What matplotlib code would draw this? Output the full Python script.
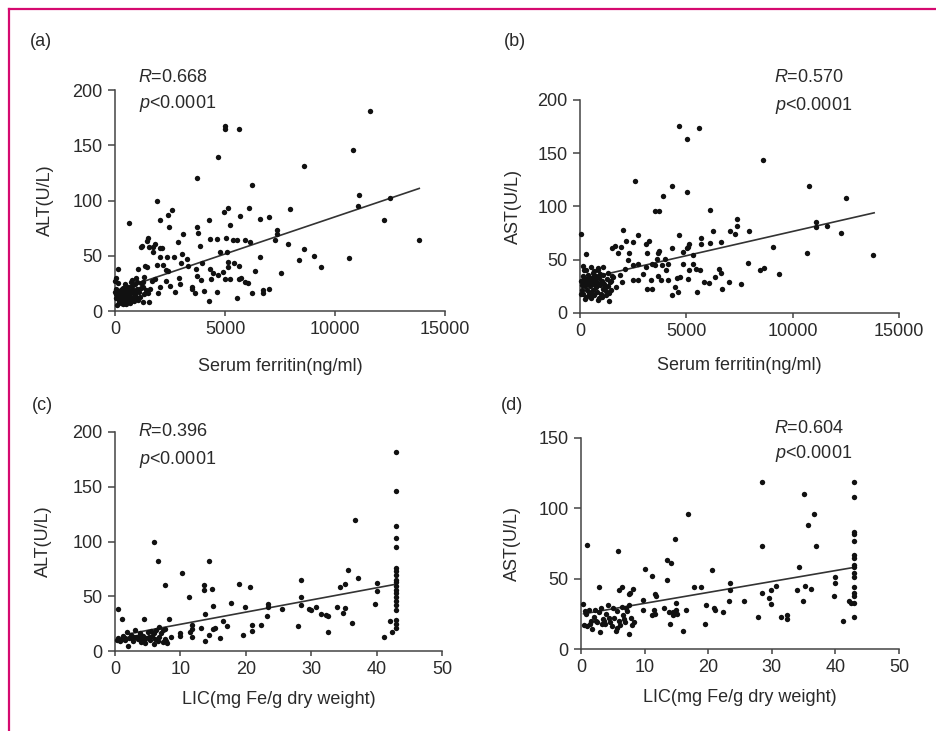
import matplotlib
matplotlib.use("Agg")
import matplotlib.pyplot as plt
from matplotlib.lines import Line2D
import numpy as np

plt.rcParams['font.family'] = ['Liberation Sans', 'DejaVu Sans']
plt.rcParams['mathtext.fontset'] = 'custom'
plt.rcParams['mathtext.it'] = 'Liberation Sans:italic'
plt.rcParams['mathtext.rm'] = 'Liberation Sans'

# ---------------- data ----------------
# Panel (a): serum ferritin vs ALT
a_x = [11590, 5000, 5000, 5650, 4667, 10817, 8590, 3712, 6212, 1924, 636, 2576, 2424, 2045, 2455,
       5151, 4955, 5681, 6106, 4288, 5227, 6591, 6985, 7939, 11106, 11030, 12500, 12242, 13818,
       10652, 8606, 8363, 9045, 9363, 7863, 7348, 7348, 7288, 7545, 6575, 6363, 6742, 6985, 6742,
       6212, 5909, 6060, 5530, 4273, 4652, 4061, 3636, 3485, 3515, 2909, 2742, 3060, 3106, 3742,
       3757, 3879, 4333, 4636, 4773, 5076, 5045, 5378, 5530, 5909, 6136, 2848, 1485, 1439, 1242,
       1545, 1742, 1833, 2060, 2151, 1712, 2045, 2348, 2667, 3000, 3257, 3333, 3682, 3939, 4303,
       4470, 4682, 4894, 5136, 5151, 5424, 5636, 5727, 5651, 4985, 5227, 4349, 3712, 3924, 2166,
       1894, 2318, 2424, 1470, 1364, 1045, 1197, 1833, 1697, 2045, 1591, 1515, 1939, 2318, 2500,
       2955, 1545, 1258, 1288, 1167, 1318, 939, 121, 30, 758,
       100, 150, 200, 250, 300, 350, 400, 450, 500, 550, 600, 650, 700, 750, 800, 850, 900, 950,
       1000, 1050, 1100, 1200, 1300, 50, 120, 180, 230, 280, 330, 380, 420, 470, 520, 580, 620,
       680, 720, 780, 820, 880, 920, 970, 1020, 60, 140, 260, 360, 440, 540, 640, 740, 840, 1150,
       1250, 1400, 30, 20, 10, 90]
a_y = [181, 167, 165, 165, 139, 146, 131, 120, 114, 100, 80, 91, 87, 82, 76,
       93, 90, 86, 93, 82, 78, 83, 85, 92, 105, 95, 102, 82, 64,
       48, 56, 46, 50, 40, 61, 73, 70, 64, 34, 49, 36, 19, 20, 16,
       16, 26, 25, 12, 9, 17, 18, 16, 22, 20, 30, 17, 52, 70, 76,
       71, 59, 65, 65, 53, 53, 66, 64, 64, 64, 62, 62, 66, 63, 59,
       58, 58, 61, 57, 57, 53, 49, 49, 49, 43, 47, 41, 38, 43, 38,
       34, 33, 35, 44, 40, 43, 41, 30, 29, 29, 29, 29, 32, 28, 42,
       42, 37, 36, 40, 41, 38, 58, 29, 27, 22, 20, 16, 16, 27, 23,
       24, 8, 8, 22, 25, 31, 30, 38, 30, 28,
       12, 18, 8, 15, 20, 10, 14, 17, 6, 12, 22, 9, 16, 19, 11, 14, 24, 13,
       20, 10, 17, 21, 15, 20, 25, 10, 13, 7, 17, 21, 9, 12, 16, 19, 14,
       7, 11, 23, 17, 9, 15, 18, 26, 15, 14, 19, 6, 24, 20, 13, 26, 19, 13,
       26, 19, 12, 17, 27, 5]

# Panel (b): serum ferritin vs AST
b_x = [4655, 5611, 5016, 8605, 2586, 4310, 5016, 3918, 10784, 12492, 3511, 3730, 6129, 7398, 7398,
       7053, 7304, 7962, 6238, 6614, 6113, 5690, 5690, 11113, 11082, 11599, 12257, 13793, 10658,
       9060, 9373, 7899, 8448, 8667, 7555, 6990, 6692, 6520, 6630, 6364, 6082, 5847, 5517, 5643,
       5141, 5079, 4702, 4545, 4592, 4451, 4310, 5016, 5094, 5141, 4655, 4326, 4859, 5329, 5298,
       5455, 4827, 3981, 3730, 3668, 3637, 3229, 3088, 3151, 2743, 2476, 2162, 2037, 1912, 2304,
       1771, 1646, 1489, 2257, 2508, 2743, 3104, 3370, 3527, 3840, 4153, 4044, 3668, 3339, 2978,
       2743, 2508, 2116, 1881, 1567, 1975, 1693, 3135, 3386, 3793, 4153, 31, 266, 157, 502, 862,
       1097, 674,
       50, 80, 120, 150, 180, 200, 230, 260, 290, 320, 350, 380, 410, 440, 470, 500, 530, 560,
       590, 620, 650, 680, 710, 740, 770, 800, 830, 860, 900, 940, 980, 1020, 1060, 1100, 1150,
       1200, 1250, 1300, 1350, 1400, 1450, 1500, 100, 300, 500, 700, 900, 1100, 1300, 60, 240,
       440, 640, 840, 1040, 1240, 1440, 160, 360, 560, 760, 960, 1160, 1360]
b_y = [176, 174, 163, 144, 124, 119, 114, 110, 119, 108, 96, 96, 97, 88, 82,
       77, 74, 77, 77, 67, 66, 65, 70, 85, 81, 82, 75, 54, 56,
       62, 37, 47, 40, 42, 27, 29, 23, 41, 38, 34, 28, 29, 20, 40,
       40, 32, 34, 33, 20, 24, 17, 61, 62, 65, 73, 61, 57, 54, 46,
       41, 46, 51, 58, 56, 51, 68, 65, 56, 73, 67, 68, 78, 62, 56,
       56, 63, 61, 50, 45, 46, 43, 46, 45, 45, 46, 40, 35, 31, 37,
       31, 31, 41, 36, 34, 29, 24, 23, 23, 31, 31, 74, 55, 44, 43, 42,
       43, 39,
       30, 22, 35, 18, 27, 40, 25, 32, 15, 28, 22, 36, 19, 30, 25, 33, 14, 27,
       38, 22, 29, 17, 31, 24, 35, 20, 28, 12, 33, 26, 18, 30, 23, 36, 27,
       21, 32, 25, 11, 29, 22, 35, 26, 40, 20, 26, 14, 28, 38, 18, 13,
       17, 35, 40, 15, 17, 30, 31, 29, 32, 29, 37, 24, 19]

# Panel (c): LIC vs ALT
c_x = [42.9] * 20 + [42.1, 42.3, 41.1, 40.0, 40.0, 39.8, 36.7, 35.7, 37.1, 35.1, 34.4, 35.2, 34.9,
       34.0, 36.3, 28.4, 28.4, 28.4, 28.0, 29.7, 30.0, 30.7, 31.5, 32.2, 32.5, 32.5, 25.6, 23.4,
       23.4, 23.2, 22.3, 20.9, 20.9, 20.6, 19.9, 19.6, 19.0, 17.7, 17.1, 16.5, 16.1, 14.3, 13.6,
       13.6, 14.9, 15.0, 13.8, 15.3, 15.0, 14.3, 13.7, 13.1, 10.2, 11.3, 7.7, 5.9, 6.6, 8.2, 7.7,
       8.6, 9.9, 9.9, 11.7, 11.7, 11.5, 11.7, 4.4, 0.4, 1.0,
       0.5, 0.8, 1.2, 1.5, 1.8, 2.0, 2.2, 2.5, 2.8, 3.0, 3.2, 3.5, 3.8, 4.0, 4.3, 4.6, 4.8, 5.0,
       5.3, 5.6, 5.9, 6.1, 6.3, 6.5, 6.8, 7.0, 7.3, 7.6, 7.9, 1.0, 2.6, 3.6, 4.2, 5.5, 6.7, 7.4,
       0.3, 3.9, 5.2, 6.0, 7.8, 2.9, 1.6, 4.5]
c_y = [182, 146, 114, 103, 95, 76, 73, 69, 65, 63, 59, 56, 53, 49, 46, 42, 37, 28, 25, 21,
       27, 17, 13, 62, 55, 43, 120, 74, 67, 61, 58, 39, 35,
       40, 26, 65, 49, 42, 23, 38, 37, 40, 34, 33, 32, 17, 38, 43,
       40, 32, 24, 24, 18, 58, 40, 15, 61, 44, 23, 27, 12, 82, 60,
       56, 57, 41, 34, 21, 20, 15, 9, 21, 71, 49, 60, 100, 82, 29, 20,
       13, 16, 14, 24, 20, 17, 13, 29, 38, 29,
       12, 9, 14, 10, 17, 5, 12, 15, 9, 19, 13, 11, 16, 8, 14, 7, 12, 17,
       10, 14, 6, 11, 19, 9, 13, 16, 8, 11, 7, 11, 12, 14, 10, 18, 22, 19,
       10, 12, 13, 16, 9, 13, 12, 9]

# Panel (d): LIC vs AST
d_x = [42.9] * 16 + [42.1, 42.5, 41.2, 39.9, 39.9, 39.8, 28.4, 28.4, 28.4, 27.9, 35.0, 36.6,
       35.7, 37.0, 34.3, 35.2, 36.2, 34.0, 34.9, 29.9, 30.7, 29.6, 29.9, 31.5, 32.4, 32.4, 16.9,
       14.8, 13.5, 14.2, 13.6, 10.1, 11.2, 11.6, 11.8, 9.8, 9.7, 11.4, 11.7, 11.1, 13.0, 13.8,
       14.4, 14.0, 14.4, 15.0, 15.0, 15.1, 16.1, 16.5, 17.8, 18.9, 20.6, 19.7, 20.9, 21.0, 19.5,
       22.3, 23.5, 23.5, 23.2, 25.6, 0.9, 5.8, 2.9, 6.0, 6.5, 7.6, 8.2, 7.6,
       0.3, 0.5, 0.8, 1.0, 1.2, 1.5, 1.8, 2.0, 2.2, 2.5, 2.8, 3.0, 3.2, 3.5, 3.8, 4.0, 4.2, 4.5,
       4.8, 5.0, 5.2, 5.5, 5.7, 6.0, 6.2, 6.4, 6.6, 6.9, 7.2, 7.5, 7.8, 8.0, 8.3, 2.3, 3.6, 4.4,
       5.6, 6.7, 7.0, 1.4, 0.7, 7.7, 3.3]
d_y = [119, 108, 83, 82, 77, 67, 65, 60, 58, 54, 51, 44, 40, 38, 33, 23,
       34, 33, 20, 51, 47, 38, 119, 73, 40, 23, 110, 96,
       88, 73, 58, 45, 43, 42, 34, 42, 45, 36, 32, 23, 24, 21, 96,
       78, 63, 61, 49, 57, 52, 39, 38, 35, 28, 28, 25, 24, 29, 26,
       26, 18, 24, 33, 28, 25, 13, 28, 44, 44, 56, 31, 29, 28, 18,
       26, 47, 42, 34, 34, 74, 70, 44, 42, 44, 39, 43, 11,
       32, 17, 25, 16, 28, 20, 14, 23, 28, 19, 26, 12, 29, 21, 18, 25, 31, 19,
       16, 29, 22, 13, 27, 20, 17, 30, 24, 19, 27, 31, 22, 17, 19, 20, 20, 22,
       15, 21, 29, 18, 27, 40, 18]

# regression lines: (x_start, x_end, intercept, slope)
a_fit = (0, 13830, 18.0, 0.00672)
b_fit = (0, 13830, 31.0, 0.00456)
c_fit = (2.0, 42.9, 13.3, 1.11)
d_fit = (0.4, 42.9, 24.7, 0.776)

x_labels = ["Serum ferritin(ng/ml)", "Serum ferritin(ng/ml)",
            "LIC(mg Fe/g dry weight)", "LIC(mg Fe/g dry weight)"]
y_labels = ["ALT(U/L)", "AST(U/L)", "ALT(U/L)", "AST(U/L)"]
panel_tags = ["(a)", "(b)", "(c)", "(d)"]
r_values = ["0.668", "0.570", "0.396", "0.604"]
p_text = "<0.0001"

# ---------------- layout ----------------
W, H = 937, 731
fig = plt.figure(figsize=(W / 100, H / 100), dpi=100)
fig.patch.set_facecolor("white")

def fx(px):
    return px / W

def fy(py):
    return 1 - py / H

FS = 13
# axes boxes in pixel: left, right, top, bottom
boxes = [(115, 445, 90, 311), (580, 899, 100, 313), (115, 442, 432, 651), (581, 899, 438, 649)]
xlims = [(0, 15000), (0, 15000), (0, 50), (0, 50)]
ylims = [(0, 200), (0, 200), (0, 200), (0, 150)]
xticks = [[0, 5000, 10000, 15000]] * 2 + [[0, 10, 20, 30, 40, 50]] * 2
yticks = [[0, 50, 100, 150, 200]] * 3 + [[0, 50, 100, 150]]
xs = [a_x, b_x, c_x, d_x]
ys = [a_y, b_y, c_y, d_y]
fits = [a_fit, b_fit, c_fit, d_fit]
tag_pos = [(41, 42), (515, 42), (42, 405), (512, 405)]
r_pos = [(138, 78, 104), (774, 78, 105), (138, 432, 459), (774, 428, 453)]
xlabel_y = [366, 366, 700, 698]
ylabel_x = [45, 513, 43, 512]

ink = "#2a2a2a"
for i in range(4):
    l, r, t, b = boxes[i]
    ax = fig.add_axes([fx(l), fy(b), (r - l) / W, (b - t) / H])
    ax.scatter(xs[i], ys[i], s=15, color="#111111", linewidths=0, zorder=3, clip_on=False)
    x0, x1, b0, m = fits[i]
    fx_line = np.array([x0, x1])
    ax.plot(fx_line, b0 + m * fx_line, color="#333333", lw=1.2, zorder=2)
    ax.set_xlim(*xlims[i])
    ax.set_ylim(*ylims[i])
    ax.set_xticks(xticks[i])
    ax.set_yticks(yticks[i])
    for s in ["top", "right"]:
        ax.spines[s].set_visible(False)
    for s in ["left", "bottom"]:
        ax.spines[s].set_color("#444444")
        ax.spines[s].set_linewidth(1.1)
    ax.tick_params(direction="out", width=1.1, color="#444444",
                   labelsize=FS, labelcolor=ink)
    ax.tick_params(axis="x", length=3.6, pad=3.5)
    ax.tick_params(axis="y", length=5.4, pad=3.5)
    ax.set_xlabel(x_labels[i], fontsize=FS, color=ink)
    ax.set_ylabel(y_labels[i], fontsize=FS, color=ink)
    ax.xaxis.set_label_coords(0.5, (b - xlabel_y[i]) / (b - t))
    ax.xaxis.label.set_va("center")
    ax.yaxis.set_label_coords((ylabel_x[i] - l) / (r - l), 0.5)
    ax.yaxis.label.set_va("center")
    ax.set_facecolor("none")

    fig.text(fx(tag_pos[i][0]), fy(tag_pos[i][1]), panel_tags[i], fontsize=FS,
             color=ink, ha="center", va="center")
    rx, ry, py_ = r_pos[i]
    fig.text(fx(rx), fy(ry), "$\\mathit{R}$=" + r_values[i], fontsize=FS, color=ink,
             ha="left", va="center")
    fig.text(fx(rx + 1), fy(py_), "$\\mathit{p}$" + p_text, fontsize=FS, color=ink,
             ha="left", va="center")

# pink frame (top and left edges)
pink = "#d5096f"
fig.add_artist(Line2D([fx(9), 1], [fy(9), fy(9)], color=pink, lw=1.6))
fig.add_artist(Line2D([fx(9), fx(9)], [0, fy(9)], color=pink, lw=1.6))

fig.savefig("out.png", dpi=100, facecolor="white")
